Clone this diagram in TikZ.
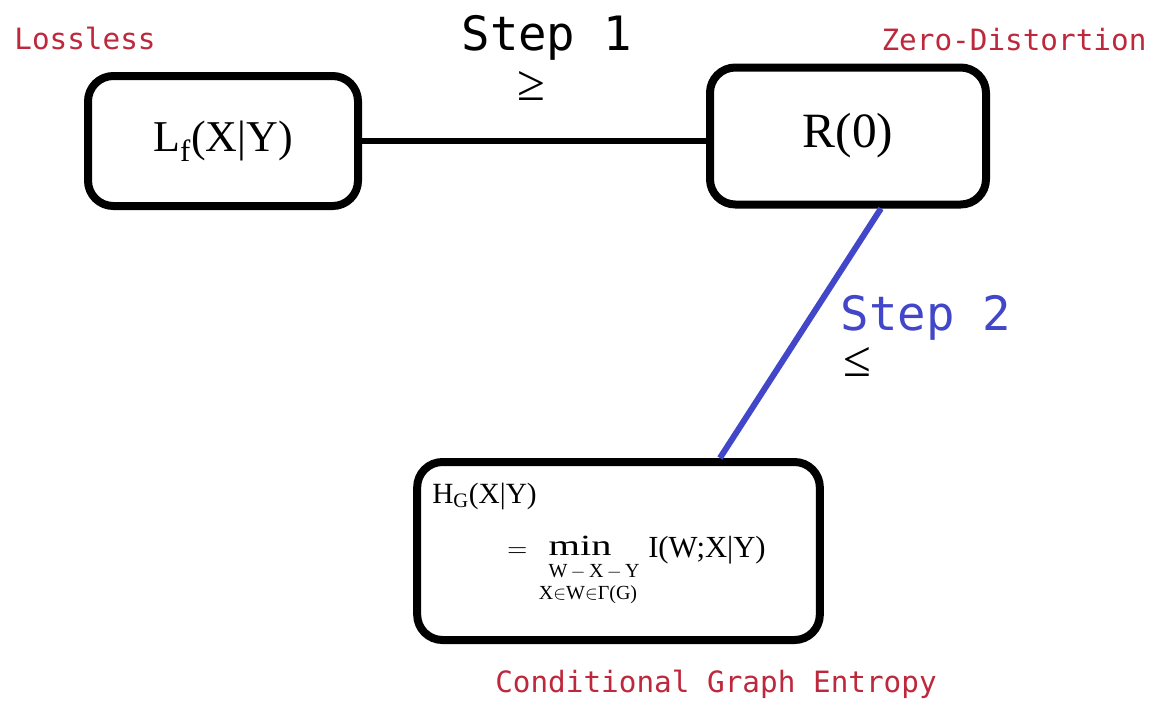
\documentclass[tikz,border=0pt]{standalone}
\usepackage{amsmath}
\usepackage{fontspec}
\setmainfont{Liberation Serif}
\newfontfamily\monofont{DejaVu Sans Mono}
\usetikzlibrary{calc}
\definecolor{tagred}{RGB}{190,40,60}
\definecolor{stepblue}{RGB}{66,70,200}

\begin{document}
\begin{tikzpicture}[x=0.75pt,y=-0.75pt,
  stagebox/.style={draw, line width=6pt, rounded corners=19pt, inner sep=0pt, fill=white},
  link/.style={line width=4.5pt},
  tag/.style={text=tagred, font=\monofont\fontsize{22}{26}\selectfont, anchor=base},
  steplabel/.style={font=\monofont\fontsize{35.5}{40}\selectfont, anchor=base},
  rel/.style={font=\fontsize{38}{42}\selectfont, inner sep=0pt},
  eqtext/.style={inner sep=0pt, font=\fontsize{22}{26}\selectfont},
  limtext/.style={inner sep=0pt, anchor=base, font=\fontsize{15}{17}\selectfont}
]
\useasboundingbox[fill=white] (0,0) rectangle (1153,704);

% the three quantities
\node[stagebox, minimum width=202.5pt, minimum height=97.5pt,
      font=\fontsize{33}{38}\selectfont] (lf) at (223,141) {L\textsubscript{f}(X|Y)};
\node[stagebox, minimum width=207pt, minimum height=102.75pt,
      font=\fontsize{37}{42}\selectfont] (r0) at (848,136) {R(0)};
\node[stagebox, minimum width=302pt, minimum height=133.5pt] (hg) at (618.5,551) {};

% contents of the graph entropy box
\node[eqtext, anchor=base west] (hgname) at (432,503) {H\textsubscript{G}(X|Y)};
\node[eqtext, anchor=base west] (hgeq) at (507,557) {$=$};
\node[eqtext, anchor=base] (hgmin) at (580,555) {\scalebox{1.38}[1]{min}};
\node[limtext] (hglim1) at (594,577) {W\,$-$\,X\,$-$\,Y};
\node[limtext] (hglim2) at (588,599) {X$\in$W$\in$Γ(G)};
\node[eqtext, anchor=base west, font=\fontsize{23}{27}\selectfont] (hgarg) at (648,557) {I(W;X|Y)};

% connectors
\draw[link] (lf.east) -- (lf.east -| r0.west);
\draw[link, stepblue] ($(r0.south west)!0.616!(r0.south east)$)
  -- ($(hg.north west)!0.747!(hg.north east)$);

% step labels and relations
\node[steplabel] (s1) at (547,50) {Step 1};
\node[rel] (ge) at (531,86) {≥};
\node[steplabel, text=stepblue] (s2) at (926,330) {Step 2};
\node[rel] (le) at (857,362) {≤};

% regime tags
\node[tag] (t1) at (85,49) {Lossless};
\node[tag] (t2) at (1014,50) {Zero-Distortion};
\node[tag] (t3) at (716,692) {Conditional Graph Entropy};
\end{tikzpicture}
\end{document}
